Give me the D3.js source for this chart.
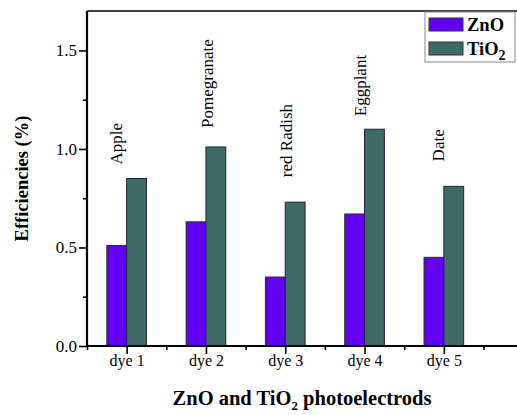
<!DOCTYPE html>
<html>
<head>
<meta charset="utf-8">
<script src="https://cdn.jsdelivr.net/npm/d3@7"></script>
<style>
  body { margin: 0; background: #fff; }
  svg { display: block; }
  text { font-family: "Liberation Serif", "Times New Roman", serif; fill: #000; }
</style>
</head>
<body>
<div id="chart"></div>
<script>
// data
const categories = ['dye 1', 'dye 2', 'dye 3', 'dye 4', 'dye 5'];
const dyeNames = ['Apple', 'Pomegranate', 'red Radish', 'Eggplant', 'Date'];
const znoValues = [0.51, 0.63, 0.35, 0.67, 0.45];
const tio2Values = [0.85, 1.01, 0.73, 1.10, 0.81];
const yMajorTicks = [0, 0.5, 1.0, 1.5];
const yMinorTicks = [0.25, 0.75, 1.25];

// hand placed dye labels, pixel nudges from the top of the TiO2 bar
const labelNudge = [[-5, -14], [7, -19], [7, -25], [1, -13], [0, -25]];

const width = 517, height = 415;
const margin = {top: 11, left: 87, bottom: 69};
const plotBottom = height - margin.bottom;
const barW = 0.25;

const ZNO_COLOR = '#6200f5';
const TIO2_COLOR = '#3d6b68';

const svg = d3.select('#chart')
    .append('svg')
    .attr('width', width)
    .attr('height', height);

const x = d3.scaleLinear()
    .domain([0.5, 6])
    .range([margin.left, margin.left + 5.5 * 79.3]);
const y = d3.scaleLinear()
    .domain([0, 1.7])
    .range([plotBottom, margin.top]);

// top frame line
svg.append('line')
    .attr('x1', x(0.5)).attr('x2', x(6))
    .attr('y1', y(1.7)).attr('y2', y(1.7))
    .attr('stroke', '#000')
    .attr('stroke-width', 1.6);

// bars
const groups = categories.map((c, i) => ({i: i + 1, zno: znoValues[i], tio2: tio2Values[i]}));
const bars = svg.append('g');
bars.selectAll('rect.zno')
    .data(groups)
    .join('rect')
    .attr('class', 'zno')
    .attr('x', d => x(d.i - barW))
    .attr('y', d => y(d.zno))
    .attr('width', d => x(d.i) - x(d.i - barW))
    .attr('height', d => y(0) - y(d.zno))
    .attr('fill', ZNO_COLOR)
    .attr('stroke', '#2a2a40')
    .attr('stroke-width', 1);
bars.selectAll('rect.tio2')
    .data(groups)
    .join('rect')
    .attr('class', 'tio2')
    .attr('x', d => x(d.i))
    .attr('y', d => y(d.tio2))
    .attr('width', d => x(d.i + barW) - x(d.i))
    .attr('height', d => y(0) - y(d.tio2))
    .attr('fill', TIO2_COLOR)
    .attr('stroke', '#223')
    .attr('stroke-width', 1);

// dye labels, rotated
svg.append('g')
    .selectAll('text')
    .data(groups)
    .join('text')
    .attr('transform', (d, k) => 'translate(' + (x(d.i) + labelNudge[k][0]) + ',' + (y(d.tio2) + labelNudge[k][1]) + ') rotate(-90)')
    .style('font-size', '17px')
    .text((d, k) => dyeNames[k]);

// y axis
const yAxis = svg.append('g')
    .attr('transform', 'translate(' + margin.left + ',0)')
    .call(d3.axisLeft(y).tickValues(yMajorTicks).tickFormat(d3.format('.1f')).tickSize(8).tickPadding(2));
yAxis.select('.domain').remove();
yAxis.selectAll('.tick line').attr('stroke-width', 1.6);
yAxis.selectAll('.tick text').style('font-size', '17px').style('font-family', '"Liberation Serif", serif');
const yMinor = svg.append('g')
    .attr('transform', 'translate(' + margin.left + ',0)')
    .call(d3.axisLeft(y).tickValues(yMinorTicks).tickFormat('').tickSize(4));
yMinor.select('.domain').remove();
yMinor.selectAll('.tick line').attr('stroke-width', 1.6);

// x axis
const xAxis = svg.append('g')
    .attr('transform', 'translate(0,' + plotBottom + ')')
    .call(d3.axisBottom(x).tickValues(d3.range(1, 6)).tickFormat(d => categories[d - 1]).tickSize(8).tickPadding(1));
xAxis.select('.domain').remove();
xAxis.selectAll('.tick line').attr('stroke-width', 1.6);
xAxis.selectAll('.tick text').style('font-size', '16px').style('font-family', '"Liberation Serif", serif');
const xMinor = svg.append('g')
    .attr('transform', 'translate(0,' + plotBottom + ')')
    .call(d3.axisBottom(x).tickValues(d3.range(0.5, 6, 1)).tickFormat('').tickSize(4));
xMinor.select('.domain').remove();
xMinor.selectAll('.tick line').attr('stroke-width', 1.6);

// axis lines on top
svg.append('line')
    .attr('x1', x(0.5)).attr('x2', x(0.5))
    .attr('y1', y(1.7)).attr('y2', y(0) + 1)
    .attr('stroke', '#000').attr('stroke-width', 2.2);
svg.append('line')
    .attr('x1', x(0.5) - 1).attr('x2', x(6))
    .attr('y1', y(0)).attr('y2', y(0))
    .attr('stroke', '#000').attr('stroke-width', 2.2);

// axis titles
svg.append('text')
    .attr('transform', 'translate(28,' + (y(0) + y(1.7)) / 2 + ') rotate(-90)')
    .attr('text-anchor', 'middle')
    .style('font-size', '18.5px')
    .style('font-weight', 'bold')
    .text('Efficiencies (%)');

const xTitle = svg.append('text')
    .attr('x', 302)
    .attr('y', 405)
    .attr('text-anchor', 'middle')
    .style('font-size', '20.5px')
    .style('font-weight', 'bold');
xTitle.append('tspan').text('ZnO and TiO');
xTitle.append('tspan').attr('dy', 5).style('font-size', '13px').text('2');
xTitle.append('tspan').attr('dy', -5).text(' photoelectrods');

// legend
const legend = svg.append('g').attr('transform', 'translate(425,12)');
legend.append('rect')
    .attr('width', 90).attr('height', 50)
    .attr('fill', '#fff')
    .attr('stroke', '#888')
    .attr('stroke-width', 1);
const legendItems = [
  {name: 'ZnO', color: ZNO_COLOR},
  {name: 'TiO', sub: '2', color: TIO2_COLOR}
];
const li = legend.selectAll('g.item')
    .data(legendItems)
    .join('g')
    .attr('class', 'item')
    .attr('transform', (d, i) => 'translate(4,' + (6 + i * 24) + ')');
li.append('rect')
    .attr('width', 34).attr('height', 13)
    .attr('fill', d => d.color)
    .attr('stroke', '#333')
    .attr('stroke-width', 1);
const lt = li.append('text')
    .attr('x', 38)
    .attr('y', 13)
    .style('font-size', '18.5px')
    .style('font-weight', 'bold');
lt.append('tspan').text(d => d.name);
lt.filter(d => d.sub)
    .append('tspan')
    .attr('dy', 5)
    .style('font-size', '14px')
    .text(d => d.sub);
</script>
</body>
</html>
